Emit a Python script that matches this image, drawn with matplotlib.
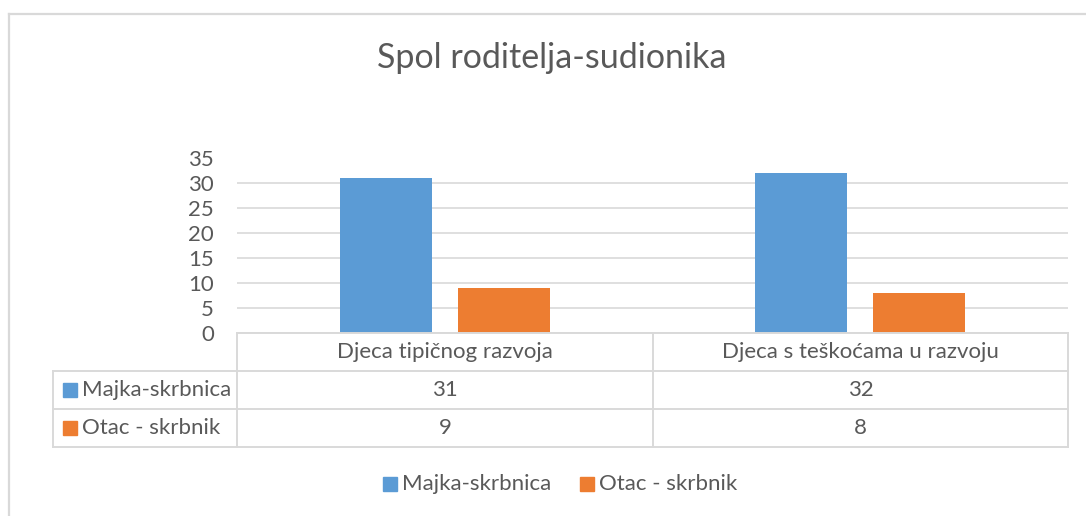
import numpy as np
import matplotlib.pyplot as plt
from matplotlib.patches import Rectangle
from matplotlib.lines import Line2D

# podaci
categories = ['Djeca tipičnog razvoja', 'Djeca s teškoćama u razvoju']
series_names = ['Majka-skrbnica', 'Otac - skrbnik']
majka = [31, 32]
otac = [9, 8]
colors = ['#5B9BD5', '#ED7D31']
y_ticks = [0, 5, 10, 15, 20, 25, 30, 35]

W, H = 1086, 516
TXT = '#595959'
GRID = '#D9D9D9'
FS = 16
plt.rcParams['font.family'] = ['Lato', 'DejaVu Sans']

fig = plt.figure(figsize=(W / 100, H / 100), dpi=100)


def fx(px):
    return px / W


def fy(py):
    return 1 - py / H


# okvir grafikona
fig.add_artist(Line2D([fx(8.5), fx(8.5)], [fy(14), fy(520)], color=GRID, lw=1.6))
fig.add_artist(Line2D([fx(8.5), fx(1090)], [fy(14), fy(14)], color=GRID, lw=1.6))

fig.text(fx(552), fy(58), 'Spol roditelja-sudionika', ha='center', va='center',
         fontsize=24.5, color=TXT)

# područje crtanja
x0, x1, ytop, ybot = 237, 1068, 158.5, 333
ax = fig.add_axes([fx(x0), fy(ybot), fx(x1) - fx(x0), fy(ytop) - fy(ybot)])
x = np.arange(len(categories))
off, bw = 0.142, 0.222
ax.bar(x - off, majka, bw, color=colors[0], zorder=3)
ax.bar(x + off, otac, bw, color=colors[1], zorder=3)
ax.set_xlim(-0.5, len(categories) - 0.5)
ax.set_ylim(0, 35)
ax.set_yticks(y_ticks)
ax.set_xticks([])
ax.tick_params(axis='y', length=0, labelsize=FS, labelcolor=TXT, pad=16.5)
ax.grid(axis='y', color=GRID, lw=1.2, zorder=0)
for s in ax.spines.values():
    s.set_visible(False)

# tablica podataka
lc = 53
row_y = [333, 371, 409, 447]
col_x = [x0, 653, x1]
lw = 1.4
fig.add_artist(Line2D([fx(x0), fx(x1)], [fy(row_y[0])] * 2, color=GRID, lw=lw))
for ry in row_y[1:]:
    fig.add_artist(Line2D([fx(lc), fx(x1)], [fy(ry)] * 2, color=GRID, lw=lw))
for cx in col_x:
    fig.add_artist(Line2D([fx(cx)] * 2, [fy(row_y[0]), fy(row_y[-1])], color=GRID, lw=lw))
fig.add_artist(Line2D([fx(lc)] * 2, [fy(row_y[1]), fy(row_y[-1])], color=GRID, lw=lw))

for i, cat in enumerate(categories):
    cx = (col_x[i] + col_x[i + 1]) / 2
    fig.text(fx(cx), fy((row_y[0] + row_y[1]) / 2), cat, ha='center', va='center',
             fontsize=FS, color=TXT)
for r, vals in enumerate([majka, otac]):
    cy = (row_y[r + 1] + row_y[r + 2]) / 2
    fig.add_artist(Rectangle((fx(63), fy(cy + 7)), fx(14), fy(0) - fy(14), color=colors[r]))
    fig.text(fx(82), fy(cy), series_names[r], ha='left', va='center', fontsize=FS, color=TXT)
    for i, v in enumerate(vals):
        cx = (col_x[i] + col_x[i + 1]) / 2
        fig.text(fx(cx), fy(cy), str(v), ha='center', va='center', fontsize=FS, color=TXT)

# legenda
leg_x = [383, 580]
for r, name in enumerate(series_names):
    fig.add_artist(Rectangle((fx(leg_x[r]), fy(491)), fx(14), fy(0) - fy(14), color=colors[r]))
    fig.text(fx(leg_x[r] + 19), fy(484), name, ha='left', va='center', fontsize=FS, color=TXT)

fig.savefig('out.png', dpi=100)
